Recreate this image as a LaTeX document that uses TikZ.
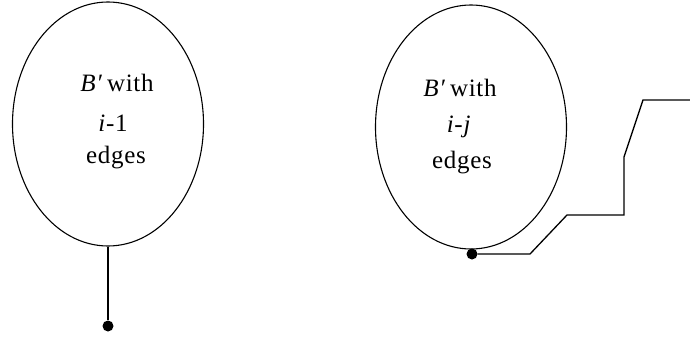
\documentclass[tikz,border=0pt]{standalone}
\usepackage{fontspec}
\setmainfont{Liberation Serif}
\usetikzlibrary{shapes.geometric}

\begin{document}
\begin{tikzpicture}[x=1pt,y=-1pt,
        blob/.style={draw=black, ellipse, line width=1.1pt, minimum width=191pt, minimum height=244pt, inner sep=0pt},
        vertex/.style={circle, fill=black, minimum size=11pt, inner sep=0pt},
        lbl/.style={font=\fontsize{25}{29}\selectfont\addfontfeatures{LetterSpace=3}, inner sep=0pt},
        wire/.style={draw=black, line width=1.3pt}]
        % Fix the page size
        \useasboundingbox (0,0) rectangle (690,343);

        % Left block with a pendant edge
        \node[blob] (bleft) at (108,124) {};
        \node[lbl] (tleft1) at (117,83) {\textit{B\char"2032}\,with};
        \node[lbl] (tleft2) at (113,123) {\textit{i}-1};
        \node[lbl] (tleft3) at (116,158) {edges};
        \node[vertex] (vleft) at (108,326) {};
        \draw[wire] (bleft.south) -- (vleft);

        % Right block with a bent path leaving it
        \node[blob] (bright) at (471,127) {};
        \node[lbl] (tright1) at (460,88) {\textit{B\char"2032}\,with};
        \node[lbl] (tright2) at (459,127) {\textit{i-j}};
        \node[lbl] (tright3) at (462,163) {edges};
        \node[vertex] (vright) at (472,254) {};
        \coordinate (pathend) at (690,100);
        \draw[wire] (vright) -- (530,254) -- (567,215) -- (624,215) -- (624,157)
                -- (643,100) -- (pathend);
\end{tikzpicture}
\end{document}
